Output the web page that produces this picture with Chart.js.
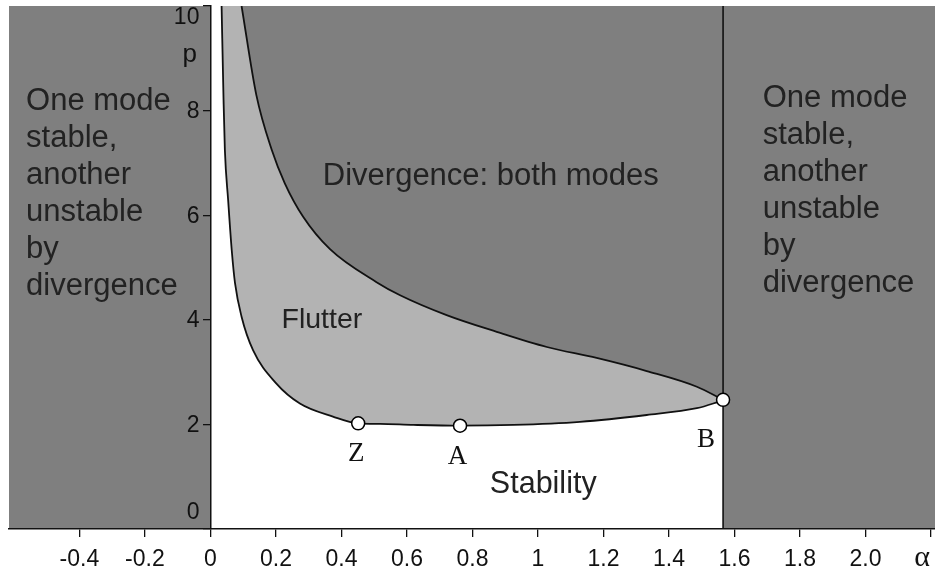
<!DOCTYPE html>
<html>
<head>
<meta charset="utf-8">
<script src="https://cdn.jsdelivr.net/npm/chart.js"></script>
<style>
  html, body { margin: 0; padding: 0; background: #fff; }
  canvas { display: block; }
</style>
</head>
<body>
<canvas id="chart" width="935" height="574"></canvas>
<script>
// axis range (alpha horizontally, p vertically)
const alphaMin = -0.615;
const alphaMax = 2.212;
const alphaB = 1.565;

// flutter onset (lower boundary of the flutter zone)
const lowerAlpha = [0.034, 0.040, 0.044, 0.054, 0.065, 0.075, 0.095, 0.13, 0.20, 0.273, 0.374, 0.451, 0.518, 0.62, 0.762, 0.925, 1.128, 1.332, 1.485, 1.535, 1.565];
const lowerP = [10, 8.2, 7.25, 6.29, 5.33, 4.70, 4.06, 3.42, 2.79, 2.40, 2.15, 2.02, 2.01, 1.99, 1.975, 1.99, 2.05, 2.18, 2.31, 2.40, 2.47];

// divergence boundary (upper boundary of the flutter zone)
const upperAlpha = [0.095, 0.14, 0.187, 0.227, 0.283, 0.365, 0.507, 0.579, 0.721, 0.874, 1.027, 1.179, 1.332, 1.485, 1.565];
const upperP = [10, 8.3, 7.25, 6.61, 5.97, 5.35, 4.72, 4.47, 4.09, 3.77, 3.48, 3.27, 3.02, 2.72, 2.47];

// marked points
const markerLabels = ["Z", "A", "B"];
const markerAlpha = [0.451, 0.762, 1.565];
const markerP = [2.02, 1.975, 2.47];

// ticks
const xTickValues = [-0.4, -0.2, 0, 0.2, 0.4, 0.6, 0.8, 1, 1.2, 1.4, 1.6, 1.8, 2.0, 2.2];
const xTickLabels = ["-0.4", "-0.2", "0", "0.2", "0.4", "0.6", "0.8", "1", "1.2", "1.4", "1.6", "1.8", "2.0", "α"];
const yTickValues = [0, 2, 4, 6, 8, 10];
const yTickLabels = ["0", "2", "4", "6", "8", "10"];

const SANS = '"Liberation Sans", Arial, Helvetica, sans-serif';
const SERIF = '"Liberation Serif", "Times New Roman", serif';
const DARK = "#7f7f7f";
const LIGHT = "#b3b3b3";

const toPoints = (xs, ys) => xs.map((x, i) => ({ x, y: ys[i] }));

const regionText = [
  { lines: ["One mode", "stable,", "another", "unstable", "by", "divergence"], x: -0.563, y: 8.02, size: 31 },
  { lines: ["One mode", "stable,", "another", "unstable", "by", "divergence"], x: 1.686, y: 8.07, size: 31 },
  { lines: ["Divergence: both modes"], x: 0.343, y: 6.58, size: 31 },
  { lines: ["Flutter"], x: 0.217, y: 3.84, size: 28.5 },
  { lines: ["Stability"], x: 0.853, y: 0.69, size: 30.5 },
];

const labelsPlugin = {
  id: "labels",
  afterDraw(chart) {
    const { ctx, scales } = chart;
    const xs = scales.x;
    const ys = scales.y;
    ctx.save();
    ctx.textBaseline = "alphabetic";

    ctx.fillStyle = "#222";
    ctx.textAlign = "left";
    regionText.forEach((t) => {
      ctx.font = `${t.size}px ${SANS}`;
      const px = xs.getPixelForValue(t.x);
      const py = ys.getPixelForValue(t.y);
      t.lines.forEach((line, i) => ctx.fillText(line, px, py + i * 37.1));
    });

    // point letters
    ctx.fillStyle = "#111";
    ctx.font = `27px ${SERIF}`;
    ctx.textAlign = "center";
    const offs = [[-2, 38], [-2.5, 38], [-17, 47]];
    markerLabels.forEach((lab, i) => {
      ctx.fillText(lab, xs.getPixelForValue(markerAlpha[i]) + offs[i][0], ys.getPixelForValue(markerP[i]) + offs[i][1]);
    });

    // vertical tick labels; the end ones are nudged inside the picture
    const axisX = xs.getPixelForValue(0);
    ctx.font = `23px ${SANS}`;
    ctx.textAlign = "right";
    ctx.textBaseline = "middle";
    yTickValues.forEach((v, i) => {
      let dy = 1;
      if (i === 0) dy = -16;
      if (i === yTickValues.length - 1) dy = 12;
      ctx.fillText(yTickLabels[i], axisX - 11, ys.getPixelForValue(v) + dy);
    });

    // axis names
    ctx.textBaseline = "alphabetic";
    ctx.font = `26px ${SANS}`;
    ctx.fillText("p", axisX - 13.5, ys.getPixelForValue(10) + 56);
    ctx.font = `30px ${SERIF}`;
    ctx.textAlign = "center";
    ctx.fillText(xTickLabels[xTickLabels.length - 1], xs.getPixelForValue(2.173), ys.getPixelForValue(0) + 37);
    ctx.restore();
  },
};

new Chart(document.getElementById("chart"), {
  type: "line",
  data: {
    datasets: [
      {
        data: toPoints(markerAlpha, markerP),
        showLine: false,
        pointRadius: 6.5,
        pointBackgroundColor: "#fff",
        pointBorderColor: "#000",
        pointBorderWidth: 1.5,
        fill: false,
      },
      {
        data: toPoints([alphaB, alphaB], [0, 10]),
        borderColor: "#111",
        borderWidth: 1.6,
        pointRadius: 0,
        fill: false,
      },
      {
        data: toPoints(upperAlpha, upperP),
        borderColor: "#111",
        borderWidth: 1.8,
        pointRadius: 0,
        cubicInterpolationMode: "monotone",
        fill: "end",
        backgroundColor: DARK,
      },
      {
        data: toPoints(lowerAlpha, lowerP),
        borderColor: "#111",
        borderWidth: 1.8,
        pointRadius: 0,
        cubicInterpolationMode: "monotone",
        fill: "end",
        backgroundColor: LIGHT,
      },
      {
        data: toPoints([alphaMin, 0], [10, 10]),
        borderWidth: 0,
        pointRadius: 0,
        fill: "start",
        backgroundColor: DARK,
      },
      {
        data: toPoints([alphaB, alphaMax], [10, 10]),
        borderWidth: 0,
        pointRadius: 0,
        fill: "start",
        backgroundColor: DARK,
      },
    ],
  },
  options: {
    responsive: false,
    animation: false,
    layout: { autoPadding: false, padding: { left: 9, right: 0, top: 6, bottom: 0 } },
    plugins: {
      legend: { display: false },
      tooltip: { enabled: false },
      filler: { drawTime: "beforeDatasetsDraw" },
    },
    scales: {
      x: {
        type: "linear",
        min: alphaMin,
        max: alphaMax,
        afterBuildTicks(scale) {
          scale.ticks = xTickValues.map((v) => ({ value: v }));
        },
        afterFit(scale) {
          scale.height = 45;
        },
        grid: { drawOnChartArea: false, drawTicks: true, tickLength: 8, color: "#111", lineWidth: 1.3, z: 1 },
        border: { display: true, color: "#111", width: 1.5, z: 1 },
        ticks: {
          autoSkip: false,
          maxRotation: 0,
          padding: 2,
          color: "#111",
          font: { family: SANS, size: 23, lineHeight: "42px" },
          callback: (v, i) => (i === xTickLabels.length - 1 ? "" : xTickLabels[i]),
        },
      },
      y: {
        type: "linear",
        position: { x: 0 },
        min: 0,
        max: 10,
        afterBuildTicks(scale) {
          scale.ticks = yTickValues.map((v) => ({ value: v }));
        },
        afterFit(scale) {
          scale.width = 0;
        },
        grid: { drawOnChartArea: false, drawTicks: true, tickLength: 7, color: "#111", lineWidth: 1.3, z: 1 },
        border: { display: true, color: "#111", width: 1.5, z: 1 },
        ticks: { display: false },
      },
    },
  },
  plugins: [labelsPlugin],
});
</script>
</body>
</html>
